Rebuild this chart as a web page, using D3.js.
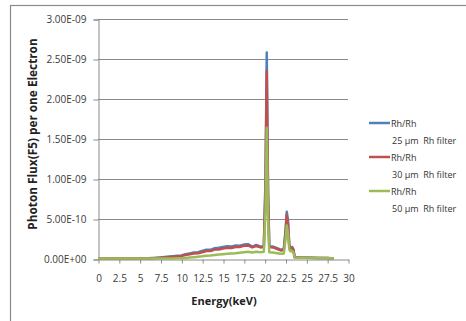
<!DOCTYPE html>
<html lang="en">
<head>
<meta charset="UTF-8">
<title>Photon flux spectrum</title>
<style>
  html, body { margin: 0; padding: 0; background: #fff; }
  #main { width: 466px; height: 321px; }
  text { font-family: "Open Sans", "Noto Sans", sans-serif; }
</style>
</head>
<body>
<div id="main"></div>
<script src="https://d3js.org/d3.v7.min.js"></script>
<script>
// energies in keV
const energy = [
  0, 0.5, 1, 1.5, 2, 2.5, 3, 3.5, 4, 4.5, 5, 5.5, 6, 6.5, 7, 7.5, 8, 8.5, 9, 9.5,
  10, 10.5, 11, 11.5, 12, 12.5, 13, 13.5, 14, 14.5, 15, 15.5, 16, 16.5, 17, 17.5,
  18, 18.5, 19, 19.5, 19.9, 20.1, 20.25, 20.4, 20.55, 21, 21.5, 22, 22.3, 22.5,
  22.65, 22.8, 22.95, 23.1, 23.3, 23.45, 23.6, 24, 24.5, 25, 25.5, 26, 26.5, 27,
  27.5, 28, 28.3
];
// flux values, in units of 1e-10
const rh25 = [
  0.05, 0.05, 0.05, 0.05, 0.05, 0.05, 0.06, 0.06, 0.06, 0.07, 0.08, 0.1, 0.1, 0.12, 0.15, 0.2, 0.25, 0.3, 0.35, 0.4,
  0.45, 0.6, 0.7, 0.8, 0.85, 1.0, 1.15, 1.15, 1.35, 1.4, 1.5, 1.6, 1.55, 1.7, 1.65, 1.8,
  1.85, 1.55, 1.75, 1.55, 1.6, 10, 25.8, 9, 1.6, 1.55, 1.35, 1.15, 1.25, 3.5,
  5.9, 4.8, 1.8, 1.4, 1.5, 1.2, 0.25, 0.2, 0.18, 0.18, 0.15, 0.15, 0.14, 0.13,
  0.12, 0.1, 0.02
];
const rh30 = [
  0.05, 0.05, 0.05, 0.05, 0.05, 0.05, 0.05, 0.05, 0.06, 0.06, 0.07, 0.08, 0.09, 0.1, 0.12, 0.15, 0.2, 0.23, 0.27, 0.32,
  0.37, 0.5, 0.58, 0.68, 0.72, 0.85, 1.0, 1.0, 1.18, 1.2, 1.3, 1.4, 1.38, 1.5, 1.5, 1.65,
  1.7, 1.45, 1.62, 1.45, 1.5, 9, 23.5, 8.2, 1.5, 1.45, 1.25, 1.05, 1.15, 3.2,
  5.5, 4.4, 1.7, 1.3, 1.4, 1.1, 0.22, 0.2, 0.17, 0.17, 0.15, 0.14, 0.13, 0.12,
  0.11, 0.1, 0.02
];
const rh50 = [
  0.05, 0.05, 0.05, 0.05, 0.05, 0.05, 0.05, 0.05, 0.05, 0.05, 0.05, 0.05, 0.05, 0.05, 0.05, 0.05, 0.05, 0.06, 0.07, 0.08,
  0.1, 0.14, 0.18, 0.23, 0.28, 0.33, 0.4, 0.44, 0.5, 0.55, 0.6, 0.65, 0.68, 0.72, 0.78, 0.85,
  0.9, 0.82, 0.9, 0.85, 0.9, 6, 16.4, 5.5, 0.85, 0.8, 0.72, 0.65, 0.7, 2.4,
  4.2, 3.3, 1.2, 0.95, 1.0, 0.8, 0.18, 0.16, 0.15, 0.15, 0.13, 0.13, 0.12, 0.11,
  0.1, 0.09, 0.02
];
const seriesNames = [
  ['Rh/Rh', '25 \u00b5m  Rh filter'],
  ['Rh/Rh', '30 \u00b5m  Rh filter'],
  ['Rh/Rh', '50 \u00b5m  Rh filter']
];
const seriesColors = ['#4f81bd', '#c0504d', '#9bbb59'];
const xTicks = [0, 2.5, 5, 7.5, 10, 12.5, 15, 17.5, 20, 22.5, 25, 27.5, 30];
const yTicks = [0, 0.5e-9, 1e-9, 1.5e-9, 2e-9, 2.5e-9, 3e-9];

const width = 466, height = 321;
const svg = d3.select('#main').append('svg')
  .attr('width', width).attr('height', height)
  .attr('viewBox', `0 0 ${width} ${height}`);

// outer chart frame (cut off at right and bottom like the original)
svg.append('rect')
  .attr('x', 10.5).attr('y', 5.5)
  .attr('width', 470).attr('height', 330)
  .attr('fill', '#fff').attr('stroke', '#8c8c8c').attr('stroke-width', 1.2);

const plot = {left: 98, right: 348, top: 19, bottom: 259};

const x = d3.scaleLinear().domain([0, 30]).range([plot.left, plot.right]);
const y = d3.scaleLinear().domain([0, 3e-9]).range([plot.bottom, plot.top]);

const fmtY = d => {
  if (d === 0) return '0.00E+00';
  const exp = Math.floor(Math.log10(d) + 1e-9);
  const mant = d / Math.pow(10, exp);
  const sign = exp < 0 ? '-' : '+';
  return mant.toFixed(2) + 'E' + sign + String(Math.abs(exp)).padStart(2, '0');
};

// gridlines
svg.append('g')
  .selectAll('line')
  .data(yTicks.filter(d => d > 0))
  .join('line')
  .attr('x1', plot.left).attr('x2', plot.right)
  .attr('y1', d => Math.round(y(d)) + 0.5).attr('y2', d => Math.round(y(d)) + 0.5)
  .attr('stroke', '#8a8a8a').attr('stroke-width', 1);

// y axis
const yAxis = svg.append('g')
  .attr('transform', `translate(${plot.left + 0.5},0.5)`)
  .call(d3.axisLeft(y).tickValues(yTicks).tickFormat(fmtY).tickSize(5).tickPadding(7));
yAxis.select('.domain').attr('stroke', '#8a8a8a');
yAxis.selectAll('.tick line').attr('stroke', '#8a8a8a');
yAxis.selectAll('text').attr('fill', '#3a3a3a').style('font-size', '10px');

// x axis
const xAxis = svg.append('g')
  .attr('transform', `translate(0.5,${plot.bottom + 0.5})`)
  .call(d3.axisBottom(x).tickValues(xTicks).tickFormat(d => String(d)).tickSize(4).tickSizeOuter(0).tickPadding(11));
xAxis.select('.domain').attr('stroke', '#8a8a8a');
xAxis.selectAll('.tick line').attr('stroke', '#8a8a8a');
xAxis.selectAll('text').attr('fill', '#3a3a3a').style('font-size', '10px');

// spectra
const line = d3.line()
  .x((d, i) => x(energy[i]))
  .y(d => y(d * 1e-10));

[rh25, rh30, rh50].forEach((vals, i) => {
  svg.append('path')
    .datum(vals)
    .attr('d', line)
    .attr('fill', 'none')
    .attr('stroke', seriesColors[i])
    .attr('stroke-width', 2.5)
    .attr('stroke-linejoin', 'round');
});

// axis titles
svg.append('text')
  .attr('transform', 'translate(37,134) rotate(-90)')
  .attr('text-anchor', 'middle')
  .style('font-size', '11.8px').style('font-weight', 'bold')
  .attr('fill', '#222')
  .text('Photon Flux(F5) per one Electron');

svg.append('text')
  .attr('x', 224).attr('y', 305)
  .attr('text-anchor', 'middle')
  .style('font-size', '11px').style('font-weight', 'bold')
  .attr('fill', '#222')
  .text('Energy(keV)');

// legend
const legend = svg.append('g').attr('transform', 'translate(369,123)');
seriesNames.forEach((lbl, i) => {
  const g = legend.append('g').attr('transform', `translate(0,${i * 34})`);
  g.append('line').attr('x1', 0).attr('x2', 21).attr('y1', 0).attr('y2', 0)
    .attr('stroke', seriesColors[i]).attr('stroke-width', 2.5);
  g.append('text').attr('x', 22).attr('y', 3.5)
    .style('font-size', '9px').attr('fill', '#333').text(lbl[0]);
  g.append('text').attr('x', 23).attr('y', 20.5)
    .style('font-size', '9px').attr('fill', '#333').attr('xml:space', 'preserve').text(lbl[1]);
});
</script>
</body>
</html>
